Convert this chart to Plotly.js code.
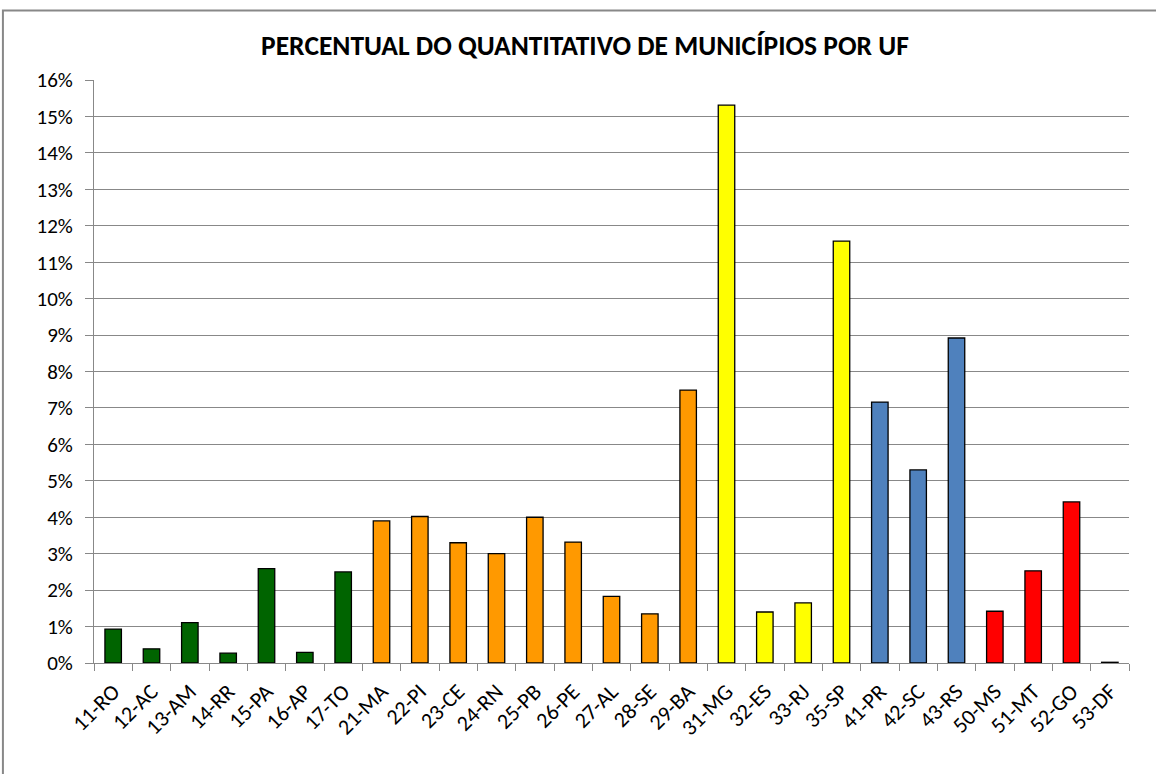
<!DOCTYPE html>
<html>
<head>
<meta charset="utf-8">
<script src="https://cdn.plot.ly/plotly-3.0.1.min.js"></script>
<style>
html,body{margin:0;padding:0;background:#fff;}
#chart{width:1156px;height:774px;}
</style>
</head>
<body>
<div id="chart"></div>
<script>
const categories = ["11-RO","12-AC","13-AM","14-RR","15-PA","16-AP","17-TO","21-MA","22-PI","23-CE","24-RN","25-PB","26-PE","27-AL","28-SE","29-BA","31-MG","32-ES","33-RJ","35-SP","41-PR","42-SC","43-RS","50-MS","51-MT","52-GO","53-DF"];
const percentValues = [0.93,0.39,1.11,0.27,2.59,0.29,2.50,3.90,4.02,3.30,3.00,4.00,3.32,1.83,1.35,7.49,15.31,1.40,1.65,11.58,7.16,5.30,8.92,1.42,2.53,4.42,0.02];
const regionOfBar = ["N","N","N","N","N","N","N","NE","NE","NE","NE","NE","NE","NE","NE","NE","SE","SE","SE","SE","S","S","S","CO","CO","CO","CO"];
const regionColors = {N:"#006400", NE:"#FF9900", SE:"#FFFF00", S:"#4F81BD", CO:"#FF0000"};
const yTickValues = [0,1,2,3,4,5,6,7,8,9,10,11,12,13,14,15,16];
const yTickLabels = yTickValues.map(v => v + "%");

const font = "Carlito, Lato, 'Open Sans', sans-serif";

const trace = {
  type: "bar",
  x: categories,
  y: percentValues,
  marker: {
    color: regionOfBar.map(r => regionColors[r]),
    line: {color: "#000000", width: 1.3}
  },
  hoverinfo: "x+y"
};

const layout = {
  width: 1156,
  height: 774,
  margin: {l: 94, r: 27, t: 80, b: 111},
  paper_bgcolor: "#ffffff",
  plot_bgcolor: "#ffffff",
  bargap: 0.57,
  showlegend: false,
  title: {
    text: "<b>PERCENTUAL DO QUANTITATIVO DE MUNICÍPIOS POR UF</b>",
    font: {family: font, size: 27.5, color: "#000"},
    x: 0.506, xanchor: "center",
    y: 0.942, yanchor: "middle"
  },
  xaxis: {
    type: "category",
    tickangle: -45,
    tickfont: {family: font, size: 22, color: "#000"},
    showline: true, linecolor: "#888888", linewidth: 1,
    ticks: "outside", ticklen: 7, tickcolor: "#888888",
    tickson: "boundaries",
    ticklabelstandoff: 6,
    showgrid: false,
    zeroline: false
  },
  yaxis: {
    range: [0, 16],
    tickvals: yTickValues,
    ticktext: yTickLabels,
    tickfont: {family: font, size: 21, color: "#000"},
    showline: true, linecolor: "#888888", linewidth: 1,
    ticks: "outside", ticklen: 8, tickcolor: "#888888",
    ticklabelstandoff: 8,
    showgrid: true, gridcolor: "#888888", gridwidth: 1,
    zeroline: false
  },
  shapes: [{
    type: "rect", xref: "paper", yref: "paper",
    x0: -0.088, x1: 1.2, y0: -0.5, y1: 1.119,
    line: {color: "#888888", width: 2},
    fillcolor: "rgba(0,0,0,0)",
    layer: "above"
  }]
};

Plotly.newPlot("chart", [trace], layout, {displayModeBar: false, staticPlot: true});
</script>
</body>
</html>
